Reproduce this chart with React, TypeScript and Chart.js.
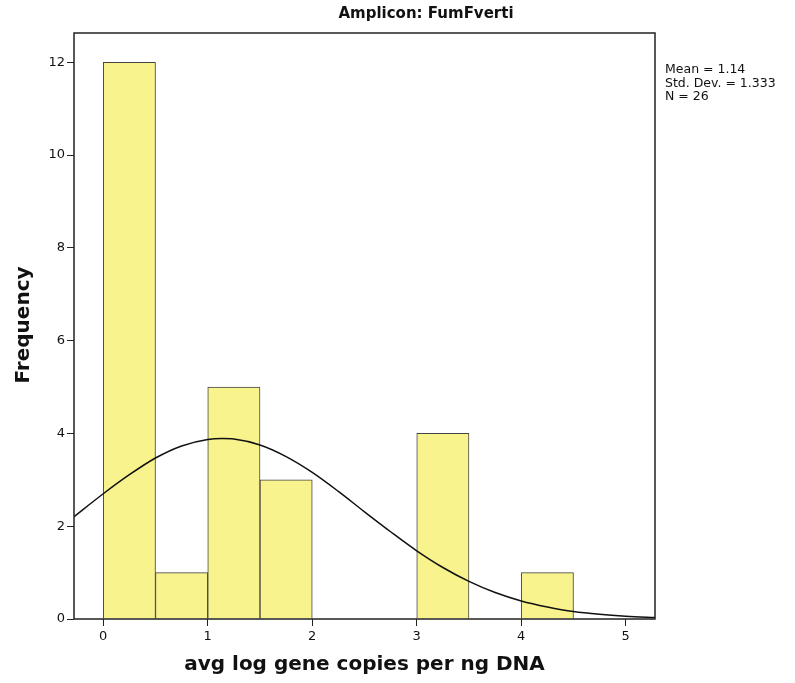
import React, { useEffect, useRef } from "react";
import { Chart, registerables } from "chart.js";

Chart.register(...registerables);

// Histogram bins (centres of 0.5-wide bins) and frequencies
const binCenters = [0.25, 0.75, 1.25, 1.75, 2.25, 2.75, 3.25, 3.75, 4.25, 4.75];
const frequencies = [12, 1, 5, 3, 0, 0, 4, 0, 1, 0];

// Normal curve
const curveX = [-0.3, 0, 0.25, 0.5, 0.75, 1, 1.14, 1.25, 1.5, 1.75, 2, 2.25, 2.5, 2.75, 3, 3.25, 3.5, 3.75, 4, 4.25, 4.5, 4.75, 5, 5.3];
const curveY = [2.17, 2.7, 3.11, 3.47, 3.73, 3.87, 3.89, 3.88, 3.75, 3.5, 3.16, 2.75, 2.31, 1.88, 1.47, 1.11, 0.81, 0.57, 0.39, 0.26, 0.16, 0.1, 0.06, 0.03];

const xTicks = [0, 1, 2, 3, 4, 5];
const yTicks = [0, 2, 4, 6, 8, 10, 12];

const chartTitle = "Amplicon: FumFverti";
const xTitle = "avg log gene copies per ng DNA";
const yTitle = "Frequency";
const statsLines = ["Mean = 1.14", "Std. Dev. = 1.333", "N = 26"];

const FONT = "'DejaVu Sans', sans-serif";

const decorPlugin = {
  id: "decor",
  afterDatasetsDraw(chart: any) {
    const { ctx, chartArea } = chart;
    ctx.save();
    ctx.strokeStyle = "#222";
    ctx.lineWidth = 1.5;
    ctx.strokeRect(chartArea.left, chartArea.top, chartArea.right - chartArea.left, chartArea.bottom - chartArea.top);
    ctx.fillStyle = "#111";
    ctx.textAlign = "center";
    ctx.textBaseline = "middle";
    ctx.font = `bold 15px ${FONT}`;
    ctx.fillText(chartTitle, 426, 14);
    ctx.font = `bold 20px ${FONT}`;
    ctx.fillText(xTitle, (chartArea.left + chartArea.right) / 2, 665);
    ctx.save();
    ctx.translate(24, 325);
    ctx.rotate(-Math.PI / 2);
    ctx.fillText(yTitle, 0, 0);
    ctx.restore();
    ctx.textAlign = "left";
    ctx.font = `12.5px ${FONT}`;
    statsLines.forEach((s, i) => ctx.fillText(s, 665, 70 + i * 13.5));
    ctx.restore();
  },
};

export default function App() {
  const ref = useRef<HTMLCanvasElement>(null);
  useEffect(() => {
    if (!ref.current) return;
    const chart = new Chart(ref.current, {
      type: "bar",
      data: {
        datasets: [
          {
            type: "line",
            data: curveX.map((x, i) => ({ x, y: curveY[i] })),
            borderColor: "#111",
            borderWidth: 1.5,
            pointRadius: 0,
            tension: 0.4,
            cubicInterpolationMode: "monotone",
            fill: false,
            order: 0,
          } as any,
          {
            type: "bar",
            data: binCenters.map((x, i) => ({ x, y: frequencies[i] })),
            backgroundColor: "#F8F38C",
            borderColor: "#444",
            borderWidth: 1,
            borderSkipped: "bottom",
            barPercentage: 1,
            categoryPercentage: 1,
            order: 1,
          } as any,
        ],
      },
      options: {
        animation: false,
        responsive: false,
        layout: { padding: { top: 33, right: 140, left: 0, bottom: 0 } },
        plugins: { legend: { display: false }, tooltip: { enabled: false }, title: { display: false } },
        scales: {
          x: {
            type: "linear",
            offset: false,
            min: -0.28,
            max: 5.28,
            afterBuildTicks: (s: any) => {
              s.ticks = xTicks.map((v) => ({ value: v }));
            },
            afterFit: (s: any) => {
              s.height = 64;
            },
            grid: { display: true, offset: false, drawOnChartArea: false, drawTicks: true, tickLength: 7, color: "#222" },
            border: { display: false },
            ticks: { color: "#111", font: { family: FONT, size: 13 }, padding: 3, maxRotation: 0 },
          },
          y: {
            type: "linear",
            min: 0,
            max: 12.63,
            afterBuildTicks: (s: any) => {
              s.ticks = yTicks.map((v) => ({ value: v }));
            },
            afterFit: (s: any) => {
              s.width = 74;
            },
            grid: { display: true, drawOnChartArea: false, drawTicks: true, tickLength: 7, color: "#222" },
            border: { display: false },
            ticks: { color: "#111", font: { family: FONT, size: 13 }, padding: 2 },
          },
        },
      },
      plugins: [decorPlugin],
    });
    return () => chart.destroy();
  }, []);
  return (
    <div style={{ position: "absolute", left: 0, top: 0, width: 795, height: 683, background: "#fff" }}>
      <canvas ref={ref} width={795} height={683} style={{ width: 795, height: 683 }} />
    </div>
  );
}
